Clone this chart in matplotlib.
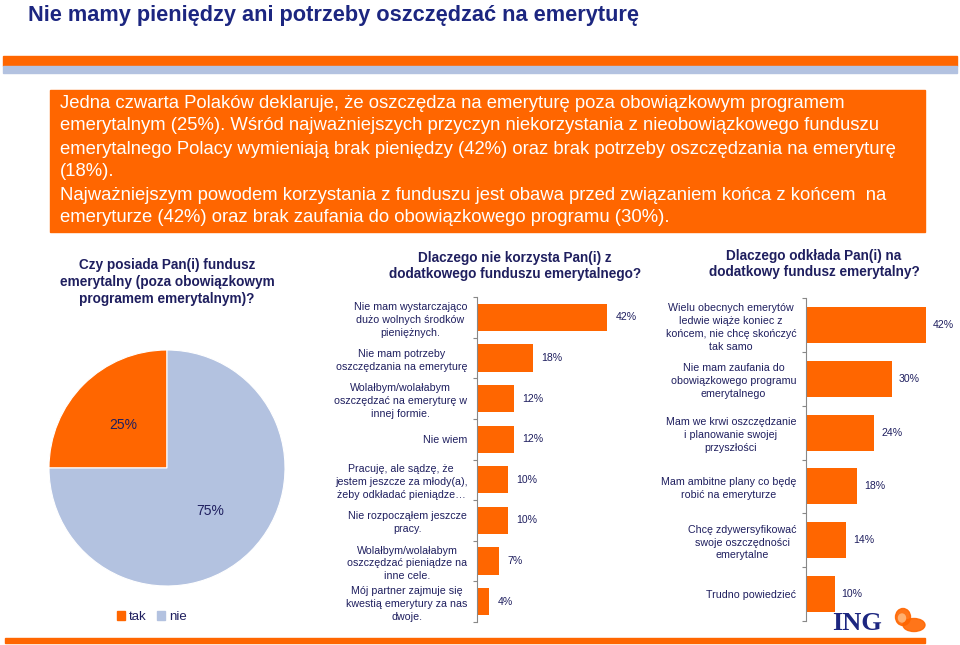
import numpy as np
import matplotlib
matplotlib.use("Agg")
import matplotlib.pyplot as plt
from matplotlib.patches import Rectangle, Patch, Ellipse

plt.rcParams['font.family'] = ['Liberation Sans', 'DejaVu Sans']

ORANGE = "#FF6600"
LIGHTBLUE = "#B3C2E0"
NAVY = "#1F1F5F"
TITLE_NAVY = "#1C2680"

W, H = 960, 645

title = "Nie mamy pieniędzy ani potrzeby oszczędzać na emeryturę"
summary_lines = [
    "Jedna czwarta Polaków deklaruje, że oszczędza na emeryturę poza obowiązkowym programem",
    "emerytalnym (25%). Wśród najważniejszych przyczyn niekorzystania z nieobowiązkowego funduszu",
    "emerytalnego Polacy wymieniają brak pieniędzy (42%) oraz brak potrzeby oszczędzania na emeryturę",
    "(18%).",
    "Najważniejszym powodem korzystania z funduszu jest obawa przed związaniem końca z końcem  na",
    "emeryturze (42%) oraz brak zaufania do obowiązkowego programu (30%).",
]

pie_title = "Czy posiada Pan(i) fundusz\nemerytalny (poza obowiązkowym\nprogramem emerytalnym)?"
pie_labels = ["tak", "nie"]
pie_values = [25, 75]

why_not_title = "Dlaczego nie korzysta Pan(i) z\ndodatkowego funduszu emerytalnego?"
why_not_cats = [
    "Nie mam wystarczająco\ndużo wolnych środków\npieniężnych.",
    "Nie mam potrzeby\noszczędzania na emeryturę",
    "Wolałbym/wolałabym\noszczędzać na emeryturę w\ninnej formie.",
    "Nie wiem",
    "Pracuję, ale sądzę, że\njestem jeszcze za młody(a),\nżeby odkładać pieniądze…",
    "Nie rozpocząłem jeszcze\npracy.",
    "Wolałbym/wolałabym\noszczędzać pieniądze na\ninne cele.",
    "Mój partner zajmuje się\nkwestią emerytury za nas\ndwoje.",
]
why_not_vals = [42, 18, 12, 12, 10, 10, 7, 4]

why_yes_title = "Dlaczego odkłada Pan(i) na\ndodatkowy fundusz emerytalny?"
why_yes_cats = [
    "Wielu obecnych emerytów\nledwie wiąże koniec z\nkońcem, nie chcę skończyć\ntak samo",
    "Nie mam zaufania do\nobowiązkowego programu\nemerytalnego",
    "Mam we krwi oszczędzanie\ni planowanie swojej\nprzyszłości",
    "Mam ambitne plany co będę\nrobić na emeryturze",
    "Chcę zdywersyfikować\nswoje oszczędności\nemerytalne",
    "Trudno powiedzieć",
]
why_yes_vals = [42, 30, 24, 18, 14, 10]


def fx(x):
    return x / W


def fy(y):
    return 1 - y / H


def box(x0, y0, x1, y1):
    # pixel box -> fig rect [left, bottom, width, height]
    return [fx(x0), fy(y1), (x1 - x0) / W, (y1 - y0) / H]


fig = plt.figure(figsize=(9.6, 6.45), dpi=100)

# header
fig.text(fx(28), fy(16), title, fontsize=15.7, fontweight="bold", color=TITLE_NAVY,
         va="center", ha="left")
fig.patches.append(Rectangle((fx(3), fy(66)), (957 - 3) / W, 10 / H,
                             transform=fig.transFigure, color=ORANGE, zorder=0))
fig.patches.append(Rectangle((fx(3), fy(73)), (957 - 3) / W, 7 / H,
                             transform=fig.transFigure, color=LIGHTBLUE, zorder=0))

# summary box
fig.patches.append(Rectangle((fx(50), fy(232)), (925 - 50) / W, (232 - 90) / H,
                             transform=fig.transFigure, color=ORANGE, zorder=0))
for i, line in enumerate(summary_lines):
    fig.text(fx(60), fy(103 + 23 * i), line, fontsize=13.3, color="white",
             va="center", ha="left")

# bottom line
fig.patches.append(Rectangle((fx(5), fy(643)), (925 - 5) / W, 5 / H,
                             transform=fig.transFigure, color=ORANGE, zorder=0))

# pie
fig.text(fx(167), fy(258), pie_title, fontsize=9.8, fontweight="bold", color=NAVY,
         ha="center", va="top", linespacing=1.25)
r = 118
pax = fig.add_axes(box(167 - r, 468 - r, 167 + r, 468 + r))
wedges, _, autotexts = pax.pie(pie_values, colors=[ORANGE, LIGHTBLUE], startangle=90,
                               counterclock=True, autopct="%d%%", pctdistance=0.52,
                               wedgeprops=dict(edgecolor="white", linewidth=0.8),
                               textprops=dict(color=NAVY, fontsize=10))
pax.set_xlim(-1, 1)
pax.set_ylim(-1, 1)
pax.set_aspect("equal")
fig.legend([Patch(color=ORANGE), Patch(color=LIGHTBLUE)], pie_labels,
           loc="center", bbox_to_anchor=(fx(152), fy(617)), ncol=2, frameon=False,
           fontsize=9.5, handlelength=0.6, handleheight=0.6, handletextpad=0.3,
           columnspacing=0.8, labelcolor=NAVY)


def bar_panel(rect, cats, vals, xmax, title_txt, title_xy, label_offset):
    ax = fig.add_axes(rect)
    n = len(cats)
    y = np.arange(n)
    ax.barh(y, vals, height=0.67, color=ORANGE)
    ax.set_ylim(n - 0.5, -0.5)
    ax.set_xlim(0, xmax)
    ax.set_yticks(y)
    ax.set_yticklabels(cats, fontsize=7.7, color=NAVY)
    for lab in ax.get_yticklabels():
        lab.set_multialignment("center")
        lab.set_linespacing(1.35)
    ax.set_yticks(np.arange(n + 1) - 0.5, minor=True)
    ax.tick_params(axis="y", which="major", length=0, pad=7)
    ax.tick_params(axis="y", which="minor", length=3, color="#888888", width=0.8)
    ax.set_xticks([])
    for s in ["top", "right", "bottom"]:
        ax.spines[s].set_visible(False)
    ax.spines["left"].set_color("#888888")
    ax.spines["left"].set_linewidth(0.8)
    ax.patch.set_alpha(0)
    for yi, v in zip(y, vals):
        ax.annotate(f"{v}%", (v, yi), xytext=(label_offset, 0), textcoords="offset points",
                    va="center", ha="left", fontsize=7.6, color=NAVY)
    fig.text(title_xy[0], title_xy[1], title_txt, fontsize=9.8, fontweight="bold",
             color=NAVY, ha="center", va="top", linespacing=1.2)
    return ax


bar_panel(box(477, 297, 650, 622), why_not_cats, why_not_vals, (650 - 477) / 3.1,
          why_not_title, (fx(515), fy(251)), 6)
bar_panel(box(806, 298, 955, 621), why_yes_cats, why_yes_vals, (955 - 806) / 2.85,
          why_yes_title, (fx(814), fy(249)), 5)

# logo
fig.text(fx(832), fy(623), "ING", fontsize=19, fontweight="bold", color=TITLE_NAVY,
         family=["Liberation Serif", "DejaVu Serif"], ha="left", va="center")
# rough lion mark
fig.patches.append(Ellipse((fx(914), fy(625)), 22 / W, 13 / H,
                           transform=fig.transFigure, color=ORANGE, alpha=0.9))
fig.patches.append(Ellipse((fx(903), fy(617)), 15 / W, 17 / H,
                           transform=fig.transFigure, color=ORANGE, alpha=0.9))
fig.patches.append(Ellipse((fx(902), fy(618)), 7 / W, 8 / H,
                           transform=fig.transFigure, color="#FFB070"))

fig.savefig("out.png", dpi=100)
